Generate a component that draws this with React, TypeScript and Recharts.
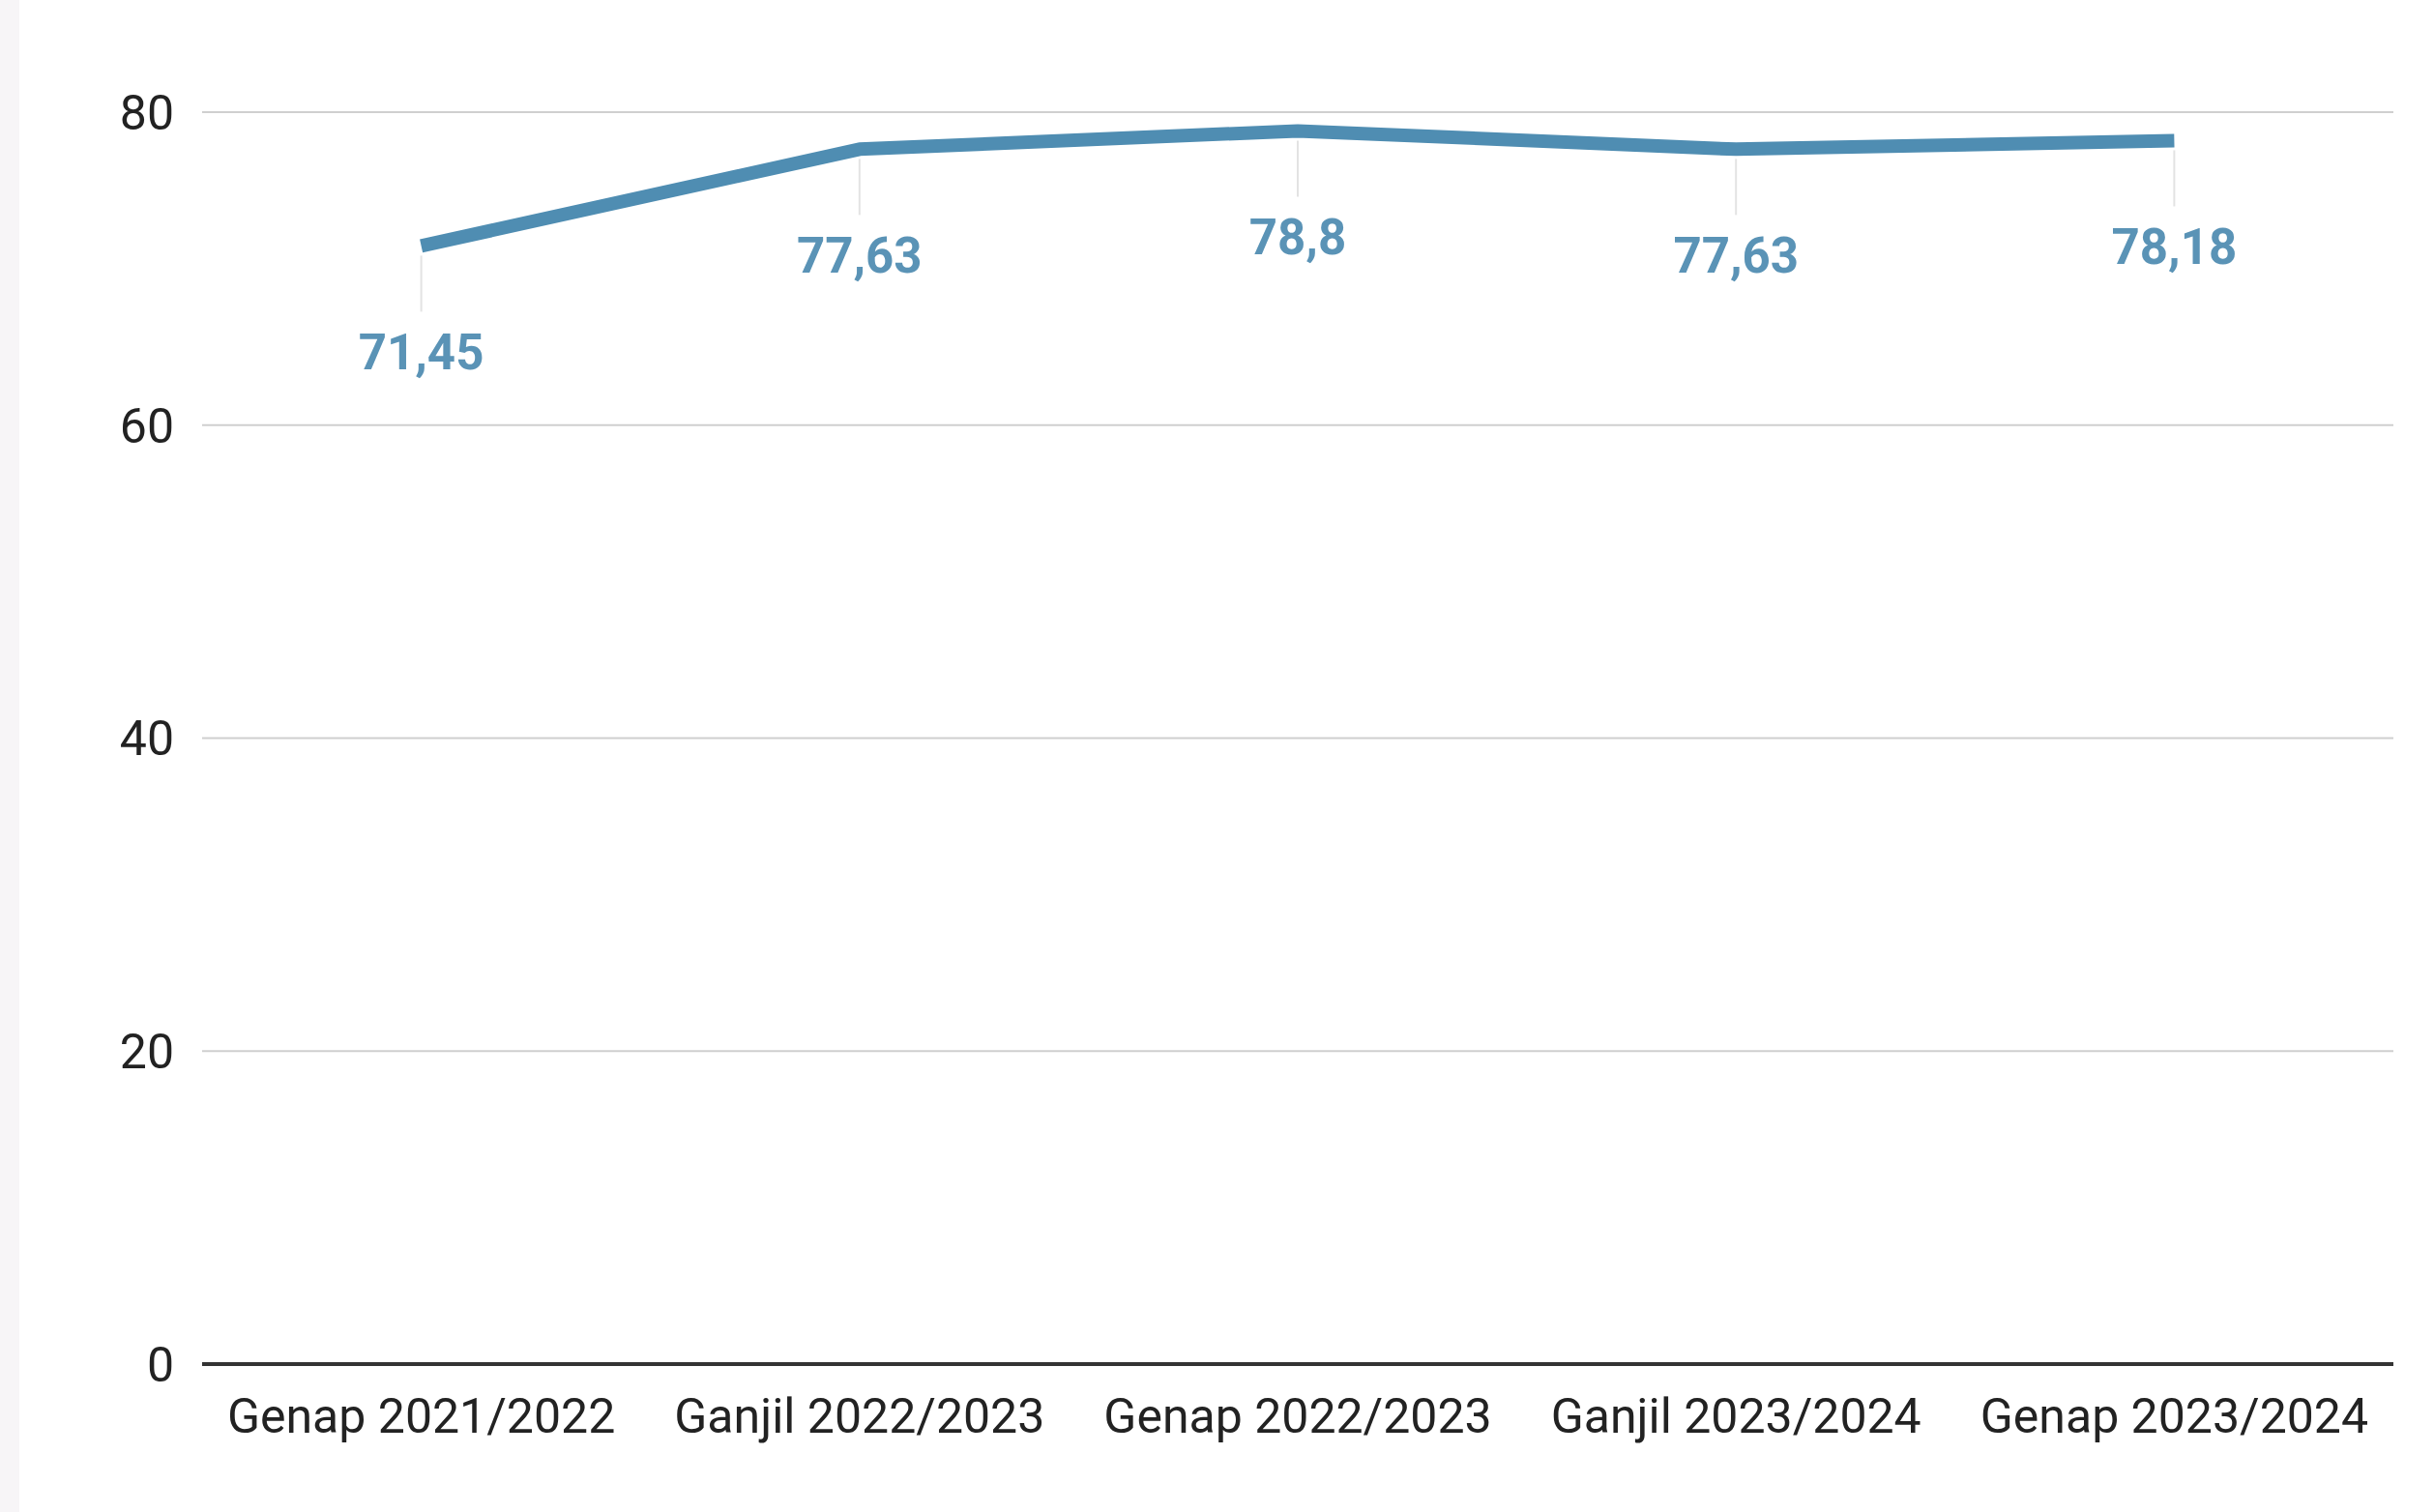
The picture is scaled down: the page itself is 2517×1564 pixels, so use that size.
import { LineChart, Line, XAxis, YAxis, CartesianGrid, LabelList } from 'recharts';

const semesters = ['Genap 2021/2022', 'Ganjil 2022/2023', 'Genap 2022/2023', 'Ganjil 2023/2024', 'Genap 2023/2024'];
const scores = [71.45, 77.63, 78.8, 77.63, 78.18];
const yTicks = [0, 20, 40, 60, 80];

const LINE_COLOR = '#4f8db2';

// comma decimals, like the source sheet
const fmt = (v: number) => String(v).replace('.', ',');

const PointLabel = (props: any) => {
    const { x, y, value } = props;
    return (
        <g>
            <line x1={x} x2={x} y1={y + 10} y2={y + 68} stroke="#e3e3e3" strokeWidth={2} />
            <text
                x={x}
                y={y + 110}
                textAnchor="middle"
                dominantBaseline="central"
                fill="#5a93b6"
                fontFamily="Roboto, sans-serif"
                fontWeight={700}
                fontSize={51}
            >
                {fmt(value)}
            </text>
        </g>
    );
};

export default function App() {
    const data = semesters.map((s, i) => ({ semester: s, score: scores[i] }));

    return (
        <div style={{ position: 'absolute', left: 0, top: 0, width: 2517, height: 1564, background: '#fff', overflow: 'hidden' }}>
            {/* faint strip on the left edge of the screenshot */}
            <div style={{ position: 'absolute', left: 0, top: 0, width: 20, height: 1564, background: '#f7f5f7' }} />
            <LineChart
                width={2517}
                height={1564}
                data={data}
                margin={{ top: 116, right: 42, bottom: 0, left: 0 }}
            >
                <CartesianGrid vertical={false} stroke="#cfcfcf" strokeWidth={2} />
                <XAxis
                    dataKey="semester"
                    height={153}
                    padding={{ left: 226.6, right: 226.6 }}
                    axisLine={{ stroke: '#333', strokeWidth: 4 }}
                    tickLine={false}
                    tickSize={0}
                    tickMargin={35}
                    interval={0}
                    tick={{ fill: '#222', fontSize: 50, fontFamily: 'Roboto, sans-serif' }}
                />
                <YAxis
                    width={209}
                    domain={[0, 80]}
                    ticks={yTicks}
                    axisLine={false}
                    tickLine={false}
                    tickSize={0}
                    tickMargin={29}
                    tick={{ fill: '#222', fontSize: 50, fontFamily: 'Roboto, sans-serif' }}
                />
                <Line
                    type="linear"
                    dataKey="score"
                    stroke={LINE_COLOR}
                    strokeWidth={14}
                    strokeLinecap="butt"
                    strokeLinejoin="round"
                    dot={false}
                    activeDot={false}
                    isAnimationActive={false}
                >
                    <LabelList dataKey="score" content={<PointLabel />} />
                </Line>
            </LineChart>
        </div>
    );
}
